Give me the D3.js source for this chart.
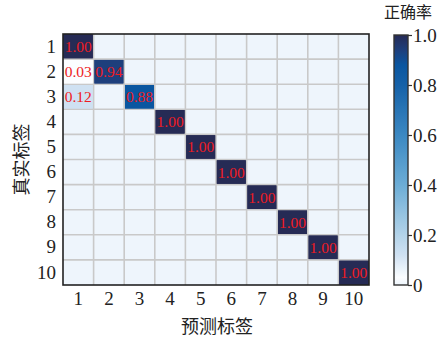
<!DOCTYPE html>
<html>
<head>
<meta charset="utf-8">
<script src="https://cdn.jsdelivr.net/npm/d3@7/dist/d3.min.js"></script>
<style>
  html, body { margin: 0; padding: 0; background: #fff; }
  svg { display: block; }
  .num { font-family: "Liberation Serif", "Times New Roman", "DejaVu Serif", serif; }
  .cjk { font-family: "Noto Sans CJK SC", "Noto Sans CJK JP", sans-serif; }
</style>
</head>
<body>
<svg id="chart" width="447" height="338"></svg>
<script>
// Confusion matrix of a 10-class classifier (rows: true label, cols: predicted label)
const classLabels = ["1", "2", "3", "4", "5", "6", "7", "8", "9", "10"];
const matrixRows = [
  [1.00, 0, 0, 0, 0, 0, 0, 0, 0, 0],
  [0.03, 0.94, 0, 0, 0, 0, 0, 0, 0, 0],
  [0.12, 0, 0.88, 0, 0, 0, 0, 0, 0, 0],
  [0, 0, 0, 1.00, 0, 0, 0, 0, 0, 0],
  [0, 0, 0, 0, 1.00, 0, 0, 0, 0, 0],
  [0, 0, 0, 0, 0, 1.00, 0, 0, 0, 0],
  [0, 0, 0, 0, 0, 0, 1.00, 0, 0, 0],
  [0, 0, 0, 0, 0, 0, 0, 1.00, 0, 0],
  [0, 0, 0, 0, 0, 0, 0, 0, 1.00, 0],
  [0, 0, 0, 0, 0, 0, 0, 0, 0, 1.00]
];
const colorbarTicks = [0, 0.2, 0.4, 0.6, 0.8, 1.0];
const colorbarTickLabels = ["0", "0.2", "0.4", "0.6", "0.8", "1.0"];
const xTitle = "预测标签";
const yTitle = "真实标签";
const colorbarTitle = "正确率";

// Colormap stops
const colorStops = [0, 0.03, 0.12, 0.2, 0.4, 0.6, 0.8, 0.88, 0.94, 1.0];
const colorValues = ["#eef5fc", "#fbfdff", "#cfe1f2", "#b3d3e9", "#6cadd6", "#3b88c2", "#1561a8", "#0a56a0", "#1e3f7c", "#262b55"];

const svg = d3.select("#chart");
const plot = { left: 63, top: 34, right: 369, bottom: 285 };

const x = d3.scaleBand().domain(classLabels).range([plot.left, plot.right]);
const y = d3.scaleBand().domain(classLabels).range([plot.top, plot.bottom]);
const color = d3.scaleLinear().domain(colorStops).range(colorValues).clamp(true);

const cells = [];
matrixRows.forEach((row, i) => row.forEach((v, j) => cells.push({ r: classLabels[i], c: classLabels[j], v })));

// Heatmap cells
svg.append("g").selectAll("rect").data(cells).join("rect")
  .attr("x", d => x(d.c))
  .attr("y", d => y(d.r))
  .attr("width", x.bandwidth())
  .attr("height", y.bandwidth())
  .attr("fill", d => color(d.v));

// Grid lines between cells
const grid = svg.append("g").attr("stroke", "#c9c9c9").attr("stroke-width", 1.6);
classLabels.slice(1).forEach(k => {
  grid.append("line").attr("x1", x(k)).attr("x2", x(k)).attr("y1", plot.top).attr("y2", plot.bottom);
  grid.append("line").attr("y1", y(k)).attr("y2", y(k)).attr("x1", plot.left).attr("x2", plot.right);
});

// Re-draw non-zero cells on top of the grid
svg.append("g").selectAll("rect").data(cells.filter(d => d.v > 0)).join("rect")
  .attr("x", d => x(d.c) + 0.8)
  .attr("y", d => y(d.r) + 0.8)
  .attr("width", x.bandwidth() - 1.6)
  .attr("height", y.bandwidth() - 1.6)
  .attr("fill", d => color(d.v));

// Cell value labels
svg.append("g").selectAll("text").data(cells.filter(d => d.v > 0)).join("text")
  .attr("class", "num")
  .attr("x", d => x(d.c) + x.bandwidth() / 2)
  .attr("y", d => y(d.r) + y.bandwidth() / 2)
  .attr("text-anchor", "middle")
  .attr("dominant-baseline", "central")
  .attr("font-size", 15.5)
  .attr("fill", "#ee1c23")
  .text(d => d.v.toFixed(2));

// Frame
svg.append("rect")
  .attr("x", plot.left).attr("y", plot.top)
  .attr("width", plot.right - plot.left).attr("height", plot.bottom - plot.top)
  .attr("fill", "none").attr("stroke", "#222").attr("stroke-width", 1.6);

// Axes
const xAxis = svg.append("g").attr("transform", `translate(0,${plot.bottom})`)
  .call(d3.axisBottom(x).tickSize(0).tickPadding(5));
const yAxis = svg.append("g").attr("transform", `translate(${plot.left},0)`)
  .call(d3.axisLeft(y).tickSize(0).tickPadding(7));
[xAxis, yAxis].forEach(a => {
  a.select(".domain").remove();
  a.selectAll("text").attr("class", "num").attr("font-family", null)
    .attr("font-size", 19).attr("fill", "#222");
});
xAxis.selectAll("text").attr("dy", "0.8em");

svg.append("text")
  .attr("class", "cjk")
  .attr("x", (plot.left + plot.right) / 2 + 1).attr("y", 333)
  .attr("text-anchor", "middle")
  .attr("font-size", 18).attr("fill", "#222")
  .text(xTitle);

svg.append("text")
  .attr("class", "cjk")
  .attr("transform", `translate(28,${(plot.top + plot.bottom) / 2}) rotate(-90)`)
  .attr("text-anchor", "middle")
  .attr("font-size", 18).attr("fill", "#222")
  .text(yTitle);

// Colorbar
const cb = { x: 394, w: 14, top: 35, bottom: 285 };
const defs = svg.append("defs");
const grad = defs.append("linearGradient").attr("id", "cbGrad")
  .attr("x1", 0).attr("y1", 1).attr("x2", 0).attr("y2", 0);
d3.range(0, 1.0001, 0.01).forEach(t => {
  grad.append("stop").attr("offset", t).attr("stop-color", color(t));
});
svg.append("rect")
  .attr("x", cb.x).attr("y", cb.top).attr("width", cb.w).attr("height", cb.bottom - cb.top)
  .attr("fill", "url(#cbGrad)").attr("stroke", "#333").attr("stroke-width", 1.4);

const cbScale = d3.scaleLinear().domain([0, 1]).range([cb.bottom, cb.top]);
const cbAxis = svg.append("g").attr("transform", `translate(${cb.x + cb.w},0)`)
  .call(d3.axisRight(cbScale).tickValues(colorbarTicks)
    .tickFormat((d, i) => colorbarTickLabels[i]).tickSize(4).tickPadding(1));
cbAxis.select(".domain").remove();
cbAxis.selectAll("line").attr("stroke", "#333").attr("stroke-width", 1.2);
cbAxis.selectAll("text").attr("class", "num").attr("font-family", null)
  .attr("font-size", 19).attr("fill", "#222");

svg.append("text")
  .attr("class", "cjk")
  .attr("x", 408).attr("y", 18)
  .attr("text-anchor", "middle")
  .attr("font-size", 16).attr("fill", "#222")
  .text(colorbarTitle);
</script>
</body>
</html>
